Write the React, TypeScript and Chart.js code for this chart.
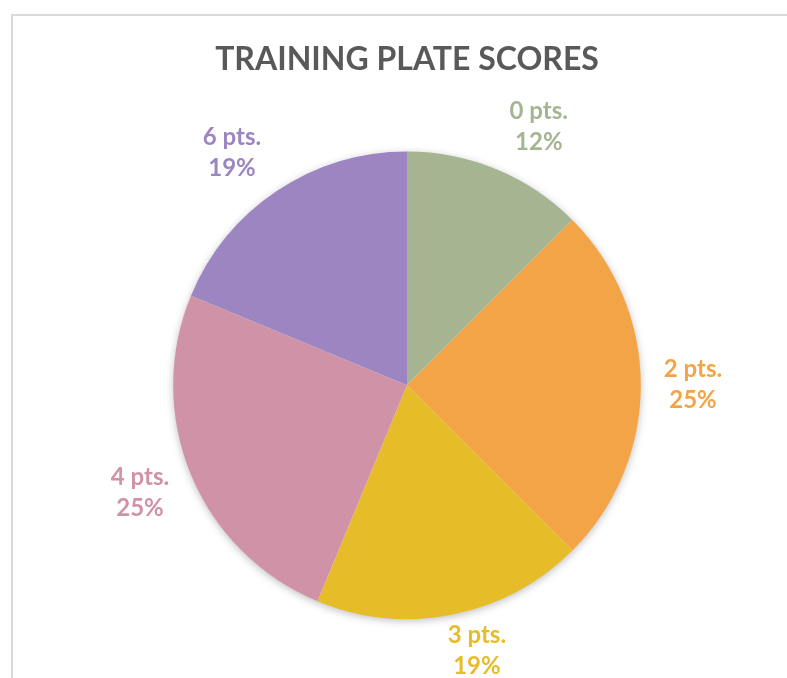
import React, { useEffect, useRef } from "react";
import { Chart, registerables } from "chart.js";

Chart.register(...registerables);

const categories = ["0 pts.", "2 pts.", "3 pts.", "4 pts.", "6 pts."];
const plateCounts = [2, 4, 3, 4, 3];
const sliceColors = ["#A5B592", "#F3A447", "#E7BC29", "#D092A7", "#9C85C0"];
const titleText = "TRAINING PLATE SCORES";

const FONT = "Lato, 'Open Sans', sans-serif";

// round half to even (12.5 -> 12, 18.75 -> 19)
const roundHalfEven = (v: number) => {
  const f = Math.floor(v);
  const diff = v - f;
  if (Math.abs(diff - 0.5) < 1e-9) return f % 2 === 0 ? f : f + 1;
  return Math.round(v);
};

const pieShadow = {
  id: "pieShadow",
  beforeDatasetsDraw(chart: any) {
    const meta = chart.getDatasetMeta(0);
    const arc = meta.data[0];
    if (!arc) return;
    const { x, y, outerRadius } = arc.getProps(["x", "y", "outerRadius"], true);
    const ctx = chart.ctx;
    ctx.save();
    ctx.shadowColor = "rgba(0,0,0,0.28)";
    ctx.shadowBlur = 9;
    ctx.shadowOffsetX = 0;
    ctx.shadowOffsetY = 2;
    ctx.beginPath();
    ctx.arc(x, y, outerRadius - 0.5, 0, Math.PI * 2);
    ctx.fillStyle = "#ffffff";
    ctx.fill();
    ctx.restore();
  },
};

const outsideLabels = {
  id: "outsideLabels",
  afterDatasetsDraw(chart: any) {
    const ctx = chart.ctx;
    const meta = chart.getDatasetMeta(0);
    const data = chart.data.datasets[0].data as number[];
    const total = data.reduce((a, b) => a + b, 0);
    ctx.save();
    ctx.font = `bold 24px ${FONT}`;
    ctx.textAlign = "center";
    ctx.textBaseline = "middle";
    const lineH = 31;
    meta.data.forEach((arc: any, i: number) => {
      const { x, y, startAngle, endAngle, outerRadius } = arc.getProps(
        ["x", "y", "startAngle", "endAngle", "outerRadius"],
        true
      );
      const mid = (startAngle + endAngle) / 2;
      const dx = Math.cos(mid);
      const dy = Math.sin(mid);
      const gap = 16;
      const ax = x + dx * (outerRadius + gap);
      const ay = y + dy * (outerRadius + gap);
      const l1 = String(chart.data.labels[i]);
      const l2 = roundHalfEven((data[i] / total) * 100) + "%";
      const w = Math.max(ctx.measureText(l1).width, ctx.measureText(l2).width);
      const clamp = (v: number) => Math.max(-1, Math.min(1, v));
      const cx = ax + (w / 2 + 7) * clamp(dx * 3);
      const cy = Math.min(ay + 30 * dy, chart.height - lineH + 4);
      ctx.fillStyle = sliceColors[i];
      ctx.fillText(l1, cx, cy - lineH / 2);
      ctx.fillText(l2, cx, cy + lineH / 2);
    });
    ctx.restore();
  },
};

export default function App() {
  const ref = useRef<HTMLCanvasElement>(null);
  useEffect(() => {
    if (!ref.current) return;
    const chart = new Chart(ref.current, {
      type: "pie",
      data: {
        labels: categories,
        datasets: [
          {
            data: plateCounts,
            backgroundColor: sliceColors,
            borderWidth: 0,
          },
        ],
      },
      options: {
        responsive: false,
        animation: false,
        devicePixelRatio: 1,
        layout: { padding: { left: 173, right: 146, top: 0, bottom: 59 } },
        plugins: {
          legend: { display: false },
          tooltip: { enabled: false },
          title: {
            display: true,
            text: titleText,
            color: "#595959",
            font: { family: FONT, size: 32, weight: "bold" },
            padding: { top: 40, bottom: 73 },
          },
        },
      },
      plugins: [pieShadow, outsideLabels],
    });
    return () => chart.destroy();
  }, []);

  return (
    <div
      style={{
        position: "fixed",
        left: 0,
        top: 0,
        width: 787,
        height: 678,
        background: "#ffffff",
        overflow: "hidden",
      }}
    >
      <div
        style={{
          position: "absolute",
          left: 11,
          top: 14,
          right: 0,
          bottom: 0,
          borderTop: "2px solid #d9d9d9",
          borderLeft: "2px solid #d9d9d9",
        }}
      />
      <canvas
        ref={ref}
        width={787}
        height={678}
        style={{ position: "absolute", left: 0, top: 0, width: 787, height: 678 }}
      />
    </div>
  );
}
